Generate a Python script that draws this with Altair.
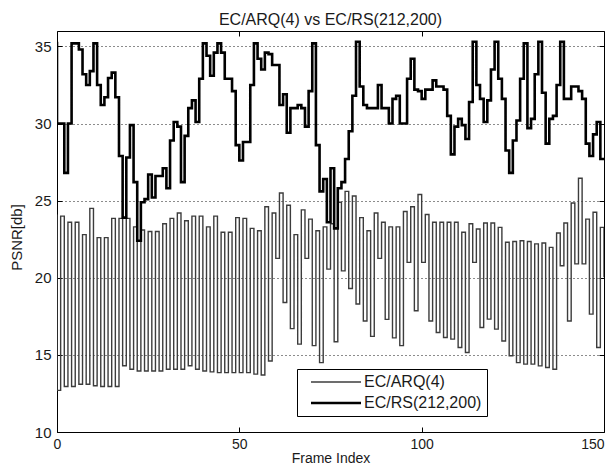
import altair as alt
import pandas as pd

series_names = ["EC/ARQ(4)", "EC/RS(212,200)"]
frame_index = list(range(0, 151))
x_ticks = [0, 50, 100, 150]
y_ticks = [10, 15, 20, 25, 30, 35]

# value at the very first instant (vertical drop at frame 0)
arq_first = 24.1
rs_first = 35.3

arq_psnr = [
    12.7, 24.0, 12.95, 23.6, 12.95, 23.6, 13.1, 22.8, 13.1, 24.5,
    13.0, 22.6, 12.95, 22.6, 12.95, 23.85, 12.95, 23.85, 14.3, 23.85,
    14.07, 23.3, 13.96, 23.1, 13.96, 23.0, 13.96, 23.0, 13.96, 23.5,
    14.07, 23.85, 14.07, 24.2, 14.07, 23.7, 14.3, 24.0, 14.07, 24.0,
    13.96, 23.3, 13.9, 24.0, 13.85, 22.95, 13.85, 22.95, 13.85, 23.9,
    13.85, 23.85, 13.85, 23.2, 13.75, 23.05, 13.7, 24.6, 14.6, 24.2,
    21.26, 25.5, 18.4, 24.7, 16.7, 22.8, 15.7, 24.4, 21.26, 23.8,
    15.6, 23.05, 14.5, 23.3, 20.56, 23.5, 15.85, 24.9, 20.45, 25.6,
    19.3, 25.3, 18.3, 23.9, 17.2, 23.05, 16.2, 24.2, 21.26, 23.6,
    17.3, 23.3, 16.1, 23.3, 15.6, 24.3, 21.0, 24.6, 17.86, 25.4,
    21.0, 24.1, 17.2, 23.6, 16.45, 23.6, 16.13, 23.6, 16.02, 23.6,
    15.48, 22.95, 15.15, 23.5, 21.0, 23.16, 16.78, 23.55, 17.32, 23.55,
    16.67, 23.27, 15.9, 22.3, 14.94, 22.35, 14.5, 22.4, 14.4, 22.35,
    14.4, 22.2, 14.29, 22.25, 14.18, 21.97, 14.07, 22.9, 20.78, 23.55,
    17.2, 24.85, 20.9, 26.45, 20.9, 23.8, 17.64, 24.25, 15.48, 23.27,
    20.03,
]

rs_psnr = [
    30.0, 30.0, 26.8, 30.0, 35.2, 35.2, 34.8, 33.2, 32.5, 33.4,
    35.2, 32.5, 31.2, 31.7, 32.95, 33.3, 31.7, 27.9, 23.9, 27.8,
    29.9, 26.2, 22.4, 24.9, 25.1, 26.7, 25.2, 26.6, 26.6, 27.1,
    25.8, 28.9, 30.1, 29.8, 26.2, 29.2, 31.0, 31.5, 30.1, 32.9,
    35.2, 34.4, 33.1, 34.6, 35.2, 34.6, 32.9, 32.9, 32.1, 28.6,
    27.6, 28.8, 28.8, 32.5, 35.2, 34.2, 33.5, 34.6, 34.5, 33.8,
    33.8, 31.2, 31.9, 29.4, 31.0, 31.0, 31.2, 31.0, 29.8, 32.1,
    35.2, 28.6, 25.6, 26.4, 23.6, 27.1, 23.2, 25.8, 26.2, 27.7,
    29.5, 31.8, 35.3, 32.4, 31.2, 31.0, 31.0, 31.0, 32.5, 31.0,
    31.0, 30.0, 31.6, 31.8, 30.0, 30.0, 32.9, 34.2, 32.2, 32.1,
    31.6, 32.2, 32.2, 32.8, 32.4, 32.4, 32.2, 30.5, 28.0, 29.8,
    30.3, 29.9, 29.0, 31.4, 35.3, 32.5, 31.6, 30.1, 31.5, 33.5,
    35.3, 32.9, 31.6, 28.25, 26.8, 28.9, 30.2, 32.9, 35.2, 29.7,
    30.3, 33.2, 35.3, 32.0, 28.7, 30.3, 30.5, 32.5, 35.3, 31.6,
    31.6, 32.4, 32.4, 32.1, 31.6, 28.7, 27.9, 29.3, 30.1, 27.7,
    27.7,
]

rows = []
for name, first, vals in [(series_names[0], arq_first, arq_psnr),
                          (series_names[1], rs_first, rs_psnr)]:
    rows.append({"series": name, "frame": frame_index[0], "psnr": first, "k": 0})
    for i, (f, v) in enumerate(zip(frame_index, vals)):
        rows.append({"series": name, "frame": f, "psnr": v, "k": i + 1})
df = pd.DataFrame(rows)

W, H = 547, 401
xs = alt.Scale(domain=[0, 150], nice=False, zero=False)
ys = alt.Scale(domain=[10, 36], nice=False, zero=False)
TXT = "#1a1a1a"

lines = alt.Chart(df).mark_line(interpolate="step-after", clip=True).encode(
    x=alt.X("frame:Q", scale=xs, axis=alt.Axis(
        orient="bottom", values=x_ticks, ticks=False, domain=False, grid=False,
        labelPadding=5, labelFontSize=14, labelFlush=False, labelColor=TXT,
        labelAlign=alt.ExprRef(expr="datum.value == 150 ? 'right' : 'center'"),
        title="Frame Index", titleFontSize=14, titleFontWeight="normal",
        titleColor=TXT, titlePadding=0)),
    y=alt.Y("psnr:Q", scale=ys, axis=alt.Axis(
        orient="left", values=y_ticks, ticks=False, domain=False, grid=True,
        gridDash=[1, 3], gridColor="#000000", gridWidth=1, gridOpacity=0.9,
        labelPadding=6, labelFontSize=15, labelColor=TXT,
        title="PSNR[db]", titleFontSize=15, titleFontWeight="normal",
        titleColor=TXT, titlePadding=10, titleY=206)),
    color=alt.Color("series:N", scale=alt.Scale(domain=series_names, range=["#3c3c3c", "#000000"]),
                    legend=alt.Legend(
                        title=None, orient="none", legendX=240, legendY=338,
                        symbolType="M-6.2,0M-5,0H5", symbolSize=100, symbolOffset=26,
                        symbolStrokeWidth=1.8, labelOffset=20, labelFontSize=16,
                        labelColor=TXT, padding=5, rowPadding=5,
                        fillColor="white", strokeColor="black",
                        labelExpr="datum.label + '  '")),
    strokeWidth=alt.StrokeWidth("series:N", scale=alt.Scale(domain=series_names, range=[1.4, 2.6]), legend=None),
    order="k:Q",
)

ticks_a = alt.Chart(df).mark_point(opacity=0).encode(
    x=alt.X("frame:Q", scale=xs, axis=alt.Axis(
        orient="top", offset=-H, values=x_ticks, labels=False, domain=False, grid=False,
        ticks=True, tickSize=5, tickColor="#000000", title=None)),
    y=alt.Y("psnr:Q", scale=ys, axis=alt.Axis(
        orient="right", offset=-W, values=y_ticks, labels=False, domain=False, grid=False,
        ticks=True, tickSize=5, tickColor="#000000", title=None)),
)

ticks_b = alt.Chart(df).mark_point(opacity=0).encode(
    x=alt.X("frame:Q", scale=xs, axis=alt.Axis(
        orient="bottom", offset=-H, values=x_ticks, labels=False, domain=False, grid=False,
        ticks=True, tickSize=5, tickColor="#000000", title=None)),
    y=alt.Y("psnr:Q", scale=ys, axis=alt.Axis(
        orient="left", offset=-W, values=y_ticks, labels=False, domain=False, grid=False,
        ticks=True, tickSize=5, tickColor="#000000", title=None)),
)

chart = alt.layer(lines, ticks_a, ticks_b).resolve_axis(
    x="independent", y="independent"
).properties(
    width=W, height=H,
    padding={"left": 49, "top": 23, "right": 3, "bottom": 34},
    autosize=alt.AutoSizeParams(type="none"),
    title=alt.TitleParams(text="EC/ARQ(4) vs EC/RS(212,200)", fontSize=16, fontWeight="normal",
                          color=TXT, offset=3, anchor="middle", frame="group"),
).configure(
    font="Liberation Sans"
).configure_view(
    stroke="#000000", strokeWidth=1
)

chart.save("out.html", embed_options={"renderer": "svg", "actions": False})
